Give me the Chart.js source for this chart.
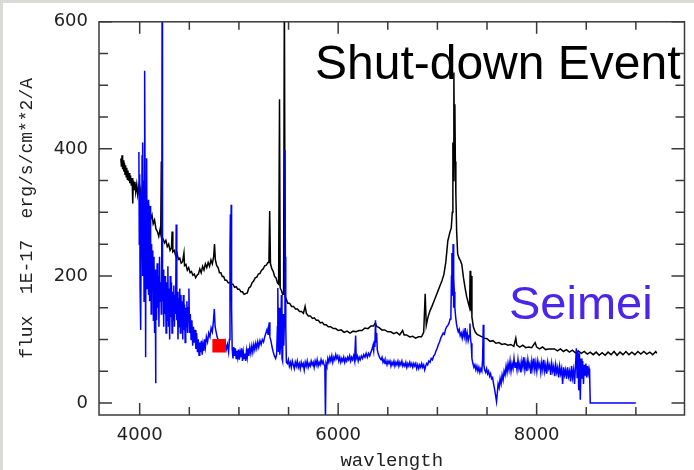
<!DOCTYPE html>
<html>
<head>
<meta charset="utf-8">
<style>
  html, body { margin: 0; padding: 0; background: #fff; }
  canvas { display: block; }
</style>
</head>
<body>
<canvas id="myChart" width="694" height="470"></canvas>
<script src="https://cdn.jsdelivr.net/npm/chart.js@4.4.0/dist/chart.umd.min.js"></script>
<script>
    // reference spectrum (black)
    const blackWave = [
        3810,3816,3822,3828,3834,3840,3846,3852,3858,3864,
        3870,3876,3882,3888,3894,3900,3908,3916,3924,3930,
        3936,3944,3952,3960,3970,3980,3990,4000,4010,4020,
        4030,4040,4052,4064,4076,4088,4100,4112,4124,4136,
        4150,4164,4178,4192,4204,4212,4218,4224,4236,4250,
        4264,4278,4292,4306,4320,4327,4334,4348,4362,4376,
        4390,4404,4418,4432,4446,4452,4466,4480,4494,4508,
        4522,4536,4550,4564,4578,4592,4606,4620,4634,4648,
        4662,4676,4690,4704,4718,4732,4746,4754,4762,4776,
        4790,4804,4818,4832,4846,4860,4876,4892,4908,4924,
        4940,4956,4972,4988,5004,5020,5036,5052,5068,5084,
        5100,5116,5132,5148,5164,5180,5196,5212,5228,5244,
        5260,5276,5292,5302,5310,5318,5332,5346,5360,5374,
        5388,5400,5409,5416,5428,5440,5450,5458,5466,5478,
        5492,5510,5530,5550,5570,5590,5610,5630,5650,5667,
        5680,5700,5720,5740,5760,5780,5800,5820,5840,5860,
        5880,5900,5925,5950,5975,6000,6030,6060,6090,6120,
        6150,6180,6210,6240,6270,6300,6330,6355,6375,6390,
        6410,6440,6470,6500,6530,6560,6590,6620,6649,6665,
        6690,6720,6750,6780,6810,6840,6862,6877,6888,6905,
        6925,6945,6965,6985,7005,7025,7045,7065,7085,7105,
        7125,7140,7150,7156,7161,7166,7171,7176,7181,7186,
        7194,7204,7218,7232,7246,7262,7278,7294,7310,7324,
        7330,7336,7340,7348,7362,7380,7400,7425,7450,7475,
        7500,7530,7560,7590,7620,7650,7680,7710,7740,7770,
        7790,7800,7830,7860,7890,7920,7950,7985,8000,8030,
        8060,8090,8120,8150,8180,8210,8240,8270,8300,8330,
        8360,8390,8420,8450,8480,8510,8540,8570,8600,8630,
        8660,8690,8720,8750,8780,8810,8840,8870,8900,8930,
        8960,8990,9020,9050,9080,9110,9140,9170,9200,9210
    ]
    const blackFlux = [
        385,372,390,368,382,364,378,360,374,356,
        370,352,366,350,362,346,358,342,354,314,
        350,336,348,332,344,328,340,326,336,320,
        330,314,322,306,314,298,306,290,296,282,
        288,274,270,262,272,266,380,262,258,252,
        256,246,250,240,244,270,238,240,232,236,
        226,228,220,222,236,216,218,209,213,205,
        207,201,203,197,201,203,211,205,215,209,
        219,213,221,215,225,219,231,250,226,216,
        213,205,205,199,199,193,193,189,189,187,
        187,182,183,179,179,175,175,171,172,173,
        181,183,189,192,197,198,203,204,209,211,
        216,217,221,221,302,219,211,207,199,197,
        189,187,478,181,177,171,171,660,167,163,
        157,157,152,152,148,148,144,144,141,152,
        141,137,137,133,134,130,130,126,127,123,
        123,120,120,117,117,114,115,111,113,110,
        113,112,114,114,118,117,121,121,126,120,
        119,115,115,112,112,109,111,107,114,107,
        107,104,105,102,104,104,111,172,122,135,
        145,152,160,168,176,184,192,202,222,255,
        268,276,300,410,350,520,420,470,380,330,
        270,235,228,224,218,198,182,168,158,150,
        208,145,200,135,120,112,108,106,104,102,
        101,97,98,94,95,92,93,91,92,89,
        102,91,88,91,87,88,87,95,88,85,
        88,84,85,85,85,82,85,81,84,80,
        83,79,82,78,81,77,80,76,80,75,
        79,75,80,76,81,75,80,76,81,76,
        80,76,81,77,81,77,80,76,81,78
    ]

    // Seimei spectrum (blue)
    const blueWave = [
        3992,3996,4000,4004,4008,4012,4016,4020,4024,4028,
        4032,4036,4040,4044,4048,4052,4056,4060,4064,4068,
        4072,4076,4080,4084,4088,4092,4096,4100,4104,4108,
        4112,4116,4120,4126,4132,4138,4144,4150,4156,4160,
        4164,4170,4176,4182,4188,4194,4200,4206,4212,4218,
        4222,4226,4230,4236,4242,4248,4254,4260,4266,4272,
        4278,4284,4290,4296,4302,4308,4314,4320,4326,4332,
        4338,4344,4350,4356,4362,4368,4374,4380,4386,4392,
        4398,4404,4410,4416,4422,4428,4434,4440,4446,4452,
        4458,4464,4470,4476,4482,4488,4496,4502,4510,4518,
        4526,4534,4542,4550,4558,4566,4574,4582,4590,4598,
        4606,4614,4622,4630,4638,4646,4654,4662,4672,4684,
        4696,4708,4720,4732,4744,4752,4760,4770,4780,4790,
        4800,4812,4824,4836,4848,4860,4872,4884,4896,4904,
        4910,4914,4918,4922,4926,4932,4940,4948,4956,4964,
        4972,4980,4988,4996,5004,5012,5020,5028,5036,5044,
        5052,5060,5068,5076,5084,5092,5100,5110,5120,5130,
        5140,5150,5160,5170,5180,5190,5200,5212,5224,5236,
        5248,5260,5272,5284,5294,5300,5306,5312,5322,5334,
        5346,5358,5370,5380,5388,5392,5398,5406,5412,5420,
        5428,5434,5440,5446,5452,5458,5464,5468,5472,5478,
        5488,5498,5508,5518,5528,5538,5548,5558,5568,5578,
        5588,5598,5608,5618,5628,5638,5648,5658,5668,5678,
        5688,5698,5708,5718,5728,5738,5748,5758,5768,5778,
        5788,5798,5808,5818,5828,5838,5848,5858,5866,5872,
        5878,5886,5896,5906,5916,5926,5936,5946,5956,5966,
        5976,5986,5996,6006,6016,6026,6036,6046,6056,6066,
        6076,6086,6096,6106,6116,6126,6136,6146,6156,6166,
        6176,6182,6192,6202,6212,6222,6234,6246,6258,6270,
        6282,6294,6306,6318,6330,6340,6350,6358,6364,6370,
        6376,6382,6388,6394,6402,6412,6422,6432,6442,6452,
        6462,6472,6482,6492,6502,6512,6522,6532,6542,6552,
        6562,6572,6582,6592,6602,6612,6622,6632,6642,6652,
        6662,6672,6682,6692,6702,6712,6722,6732,6742,6752,
        6762,6772,6782,6792,6802,6812,6822,6832,6842,6852,
        6862,6872,6882,6892,6902,6914,6926,6938,6950,6962,
        6974,6986,6998,7010,7022,7034,7046,7058,7070,7082,
        7094,7106,7118,7128,7136,7142,7146,7150,7154,7158,
        7162,7166,7170,7176,7184,7192,7200,7210,7220,7230,
        7240,7250,7260,7270,7280,7290,7300,7310,7320,7328,
        7334,7340,7348,7358,7368,7378,7388,7398,7408,7418,
        7428,7438,7448,7456,7462,7468,7476,7486,7496,7506,
        7516,7526,7536,7546,7556,7566,7576,7586,7596,7604,
        7612,7622,7632,7642,7652,7662,7672,7682,7692,7702,
        7712,7722,7732,7742,7752,7762,7772,7782,7792,7802,
        7812,7822,7832,7842,7852,7862,7872,7882,7892,7902,
        7912,7922,7932,7942,7952,7962,7972,7982,7992,8002,
        8012,8022,8032,8042,8052,8062,8072,8082,8092,8102,
        8112,8122,8132,8142,8152,8162,8172,8182,8192,8202,
        8212,8222,8232,8242,8252,8262,8272,8282,8292,8302,
        8312,8322,8332,8342,8352,8362,8372,8382,8392,8400,
        8408,8416,8424,8432,8440,8448,8456,8464,8472,8480,
        8488,8496,8504,8512,8520,8528,8534,8540,9000
    ]
    const blueFlux = [
        395,250,360,180,330,115,300,230,390,200,
        410,260,350,160,489,523,280,72,340,230,
        385,180,300,200,320,170,280,160,310,190,
        260,140,250,180,240,130,230,110,210,31,
        190,130,220,150,200,120,230,160,190,140,
        170,660,160,210,120,200,140,200,110,190,
        130,215,120,180,100,200,135,190,110,175,
        130,185,120,170,140,281,130,175,100,165,
        120,180,110,170,120,160,100,170,115,155,
        95,150,120,160,110,150,180,110,140,100,
        130,90,120,95,115,85,110,80,100,75,
        95,80,98,76,92,82,100,88,104,96,
        110,104,118,112,130,148,120,112,104,100,
        96,92,88,94,86,96,84,92,80,100,
        240,297,160,312,150,85,70,88,74,86,
        70,82,72,84,68,80,72,86,66,80,
        70,78,66,82,72,86,74,88,78,90,
        80,92,84,94,86,96,88,98,92,100,
        96,104,110,116,108,120,127,104,98,88,
        80,74,70,76,120,181,80,150,76,92,
        170,70,66,140,90,130,398,230,120,64,
        62,68,58,64,56,66,60,54,64,58,
        66,56,62,54,64,58,62,52,64,58,
        66,56,62,58,66,60,64,56,66,60,
        68,58,64,60,68,62,66,60,58,-25,
        62,58,70,64,72,66,74,64,72,68,
        76,70,74,66,72,64,70,66,72,64,
        70,66,72,68,74,66,72,68,74,66,
        106,70,74,66,72,68,74,70,76,72,
        78,72,78,74,80,84,90,82,98,88,
        130,96,110,84,78,74,70,68,72,64,
        68,62,66,60,66,62,66,58,64,60,
        66,58,64,60,66,58,64,60,66,58,
        62,58,64,56,62,58,64,58,62,56,
        62,58,62,54,60,54,60,56,62,56,
        60,52,58,62,60,66,64,70,68,74,
        76,82,86,92,96,102,106,110,108,116,
        120,122,126,132,140,200,236,170,185,250,
        150,197,175,150,135,125,118,112,116,106,
        110,102,112,104,118,100,110,98,106,125,
        100,94,70,62,56,60,52,58,50,56,
        48,54,50,70,123,60,52,48,54,46,
        50,42,46,38,40,30,22,12,2,16,
        30,24,38,30,44,36,50,44,58,48,
        62,52,66,50,62,54,70,56,64,52,
        68,54,62,48,66,56,72,52,64,50,
        68,56,62,46,66,54,70,52,64,50,
        66,56,62,48,64,52,68,50,60,46,
        64,54,60,44,62,50,58,42,60,48,
        56,40,58,46,54,30,56,44,52,38,
        56,42,50,34,58,40,52,30,60,86,
        40,82,20,78,5,70,38,66,30,60,
        44,62,40,58,46,54,48,0,0
    ]

    // red photometry point
    const markerWave = [4800]
    const markerFlux = [90]

    // tick positions (labels only on the major ones)
    const xTicks = [4000,4500,5000,5500,6000,6500,7000,7500,8000,8500,9000]
    const yTicks = [0,50,100,150,200,250,300,350,400,450,500,550,600]
    const xTickMajor = 2000
    const yTickMajor = 200

    if (blackWave.length !== blackFlux.length || blueWave.length !== blueFlux.length) {
        console.warn('length mismatch', blackWave.length, blackFlux.length, blueWave.length, blueFlux.length)
    }

    const toPoints = (xs, ys) => xs.map((x, i) => ({x: x, y: ys[i]}))

    const framePlugin = {
        id: 'frame',
        beforeDraw(chart) {
            const {ctx, width, height} = chart
            ctx.save()
            ctx.fillStyle = '#ffffff'
            ctx.fillRect(0, 0, width, height)
            ctx.fillStyle = '#dcdad6'
            ctx.fillRect(0, 0, width, 3)
            ctx.fillRect(0, 0, 3, height)
            ctx.restore()
        },
        afterDatasetsDraw(chart) {
            const {ctx, chartArea: a, scales: {x, y}} = chart
            ctx.save()
            ctx.strokeStyle = '#3a3a3a'
            ctx.lineWidth = 1.5
            ctx.strokeRect(a.left, a.top, a.right - a.left, a.bottom - a.top)
            ctx.beginPath()
            x.ticks.forEach(t => {
                const px = x.getPixelForValue(t.value)
                const len = t.value % xTickMajor === 0 ? 12 : 8
                ctx.moveTo(px, a.bottom); ctx.lineTo(px, a.bottom - len)
                ctx.moveTo(px, a.top); ctx.lineTo(px, a.top + len)
            })
            y.ticks.forEach(t => {
                const py = y.getPixelForValue(t.value)
                const len = t.value % yTickMajor === 0 ? 13 : 9
                ctx.moveTo(a.left, py); ctx.lineTo(a.left + len, py)
                ctx.moveTo(a.right, py); ctx.lineTo(a.right - len, py)
            })
            ctx.stroke()

            ctx.textAlign = 'left'
            ctx.textBaseline = 'alphabetic'
            ctx.font = '48px "Liberation Sans"'
            ctx.fillStyle = '#000000'
            ctx.fillText('Shut-down Event', 315, 79)
            ctx.font = '47px "Liberation Sans"'
            ctx.fillStyle = '#4b25ea'
            ctx.fillText('Seimei', 509, 319)
            ctx.restore()
        }
    }

    const ctx = document.getElementById('myChart').getContext('2d')

    const chart = new Chart(ctx, {
        type: 'scatter',
        data: {
            datasets: [
                {
                    label: 'photometry',
                    data: toPoints(markerWave, markerFlux),
                    pointStyle: 'rect',
                    pointRadius: 9.5,
                    pointHoverRadius: 9.5,
                    backgroundColor: '#ff0000',
                    borderWidth: 0,
                    showLine: false
                },
                {
                    label: 'Seimei',
                    data: toPoints(blueWave, blueFlux),
                    showLine: true,
                    borderColor: '#0000ff',
                    borderWidth: 1.5,
                    pointRadius: 0,
                    pointHoverRadius: 0
                },
                {
                    label: 'reference',
                    data: toPoints(blackWave, blackFlux),
                    showLine: true,
                    borderColor: '#000000',
                    borderWidth: 1.5,
                    pointRadius: 0,
                    pointHoverRadius: 0
                }
            ]
        },
        options: {
            responsive: false,
            animation: false,
            events: [],
            layout: { padding: { top: 19, right: 1, left: 0, bottom: 0 } },
            plugins: {
                legend: { display: false },
                tooltip: { enabled: false }
            },
            scales: {
                x: {
                    type: 'linear',
                    min: 3590,
                    max: 9490,
                    grid: { display: false, drawTicks: false },
                    border: { display: false },
                    afterFit(scale) { scale.height = 55 },
                    afterBuildTicks(scale) { scale.ticks = xTicks.map(v => ({value: v})) },
                    ticks: {
                        autoSkip: false,
                        maxRotation: 0,
                        padding: 10,
                        color: '#222',
                        font: { family: '"DejaVu Sans"', size: 18 },
                        callback: v => v % xTickMajor === 0 ? String(v) : ''
                    },
                    title: {
                        display: true,
                        text: 'wavlength',
                        color: '#222',
                        font: { family: '"Liberation Mono"', size: 19, lineHeight: 1 },
                        padding: { top: 0, bottom: 0 }
                    }
                },
                y: {
                    type: 'linear',
                    min: -19,
                    max: 600,
                    grid: { display: false, drawTicks: false },
                    border: { display: false },
                    afterFit(scale) { scale.width = 99 },
                    afterBuildTicks(scale) { scale.ticks = yTicks.map(v => ({value: v})) },
                    ticks: {
                        autoSkip: false,
                        padding: 11,
                        color: '#222',
                        font: { family: '"DejaVu Sans"', size: 18 },
                        callback: v => v % yTickMajor === 0 ? String(v) : ''
                    },
                    title: {
                        display: true,
                        text: 'flux  1E-17  erg/s/cm**2/A',
                        color: '#222',
                        font: { family: '"Liberation Mono"', size: 18, lineHeight: 1 },
                        padding: { top: 18, bottom: 0 }
                    }
                }
            }
        },
        plugins: [framePlugin]
    })
</script>
</body>
</html>
